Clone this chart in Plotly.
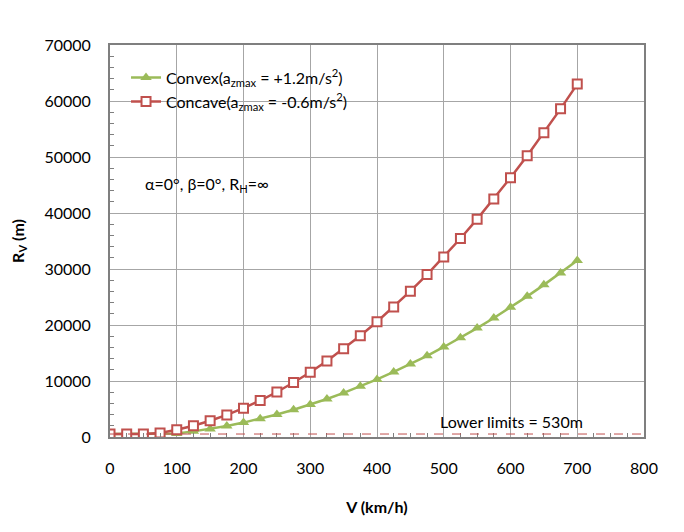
import plotly.graph_objects as go

speed = [0, 25, 50, 75, 100, 125, 150, 175, 200, 225, 250, 275, 300, 325, 350,
         375, 400, 425, 450, 475, 500, 525, 550, 575, 600, 625, 650, 675, 700]
convex = [530, 530, 530, 530, 643, 1005, 1447, 1969, 2572, 3255, 4019, 4863, 5787, 6792, 7877,
          9042, 10288, 11614, 13021, 14508, 16075, 17723, 19451, 21259, 23148, 25117, 27167, 29297, 31507]
concave = [530, 530, 530, 723, 1286, 2009, 2894, 3938, 5144, 6510, 8038, 9725, 11574, 13584, 15754,
           18084, 20576, 23228, 26042, 29016, 32150, 35446, 38902, 42519, 46296, 50234, 54334, 58594, 63014]
lower_limit = 530

FONT = "Lato"
green = "#9BBB59"
red = "#C0504D"

fig = go.Figure()
fig.add_trace(go.Scatter(
    x=speed, y=convex, mode="lines+markers",
    name="Convex(a<sub>zmax</sub> = +1.2m/s<sup>2</sup>)",
    line=dict(color=green, width=2.5),
    marker=dict(symbol="triangle-up", size=10, color=green),
))
fig.add_trace(go.Scatter(
    x=speed, y=concave, mode="lines+markers",
    name="Concave(a<sub>zmax</sub> = -0.6m/s<sup>2</sup>)",
    line=dict(color=red, width=2.5),
    marker=dict(symbol="square", size=9, color="white", line=dict(color=red, width=2)),
))

fig.add_shape(type="line", xref="paper", x0=0, x1=1, yref="y", y0=lower_limit, y1=lower_limit,
              line=dict(color=red, width=1, dash="dash"))
fig.add_annotation(x=0.615, xref="paper", y=lower_limit, yref="y", yshift=1,
                   text="Lower limits = 530m", showarrow=False, xanchor="left", yanchor="bottom",
                   font=dict(family=FONT, size=16, color="black"))
fig.add_annotation(x=0.062, xref="paper", y=0.645, yref="paper",
                   text="α=0°, β=0°, R<sub>H</sub>=∞", showarrow=False, xanchor="left", yanchor="middle",
                   font=dict(family=FONT, size=16, color="black"))

fig.update_layout(
    width=676, height=524,
    margin=dict(l=102, r=40, t=37, b=95, autoexpand=False),
    paper_bgcolor="white", plot_bgcolor="white",
    font=dict(family=FONT, size=16, color="black"),
    showlegend=True,
    legend=dict(x=0.03, y=0.96, xanchor="left", yanchor="top", bgcolor="rgba(0,0,0,0)",
                font=dict(family=FONT, size=16, color="black"), tracegroupgap=0),
    xaxis=dict(
        range=[0, 800], dtick=100, tick0=0, automargin=False,
        showgrid=True, gridcolor="#A6A6A6", gridwidth=1,
        showline=True, linecolor="#7F7F7F", linewidth=2, mirror=True,
        ticks="", ticklen=0, zeroline=False, ticklabelstandoff=16,
        minor=dict(dtick=25, ticks="inside", ticklen=4, tickcolor="#7F7F7F", showgrid=False),
        title=dict(text="<b>V (km/h)</b>", font=dict(family=FONT, size=16), standoff=26),
        tickfont=dict(family=FONT, size=16),
    ),
    yaxis=dict(
        range=[0, 70000], dtick=10000, tick0=0, automargin=False,
        showgrid=True, gridcolor="#A6A6A6", gridwidth=1,
        showline=True, linecolor="#7F7F7F", linewidth=2, mirror=True,
        ticks="", zeroline=False, ticklabelstandoff=14,
        minor=dict(dtick=2000, ticks="inside", ticklen=4, tickcolor="#7F7F7F", showgrid=False),
        title=dict(text="<b>R<sub>V</sub> (m)</b>", font=dict(family=FONT, size=16), standoff=28),
        tickfont=dict(family=FONT, size=16),
        tickformat="d",
    ),
)

fig.write_html("out.html")
